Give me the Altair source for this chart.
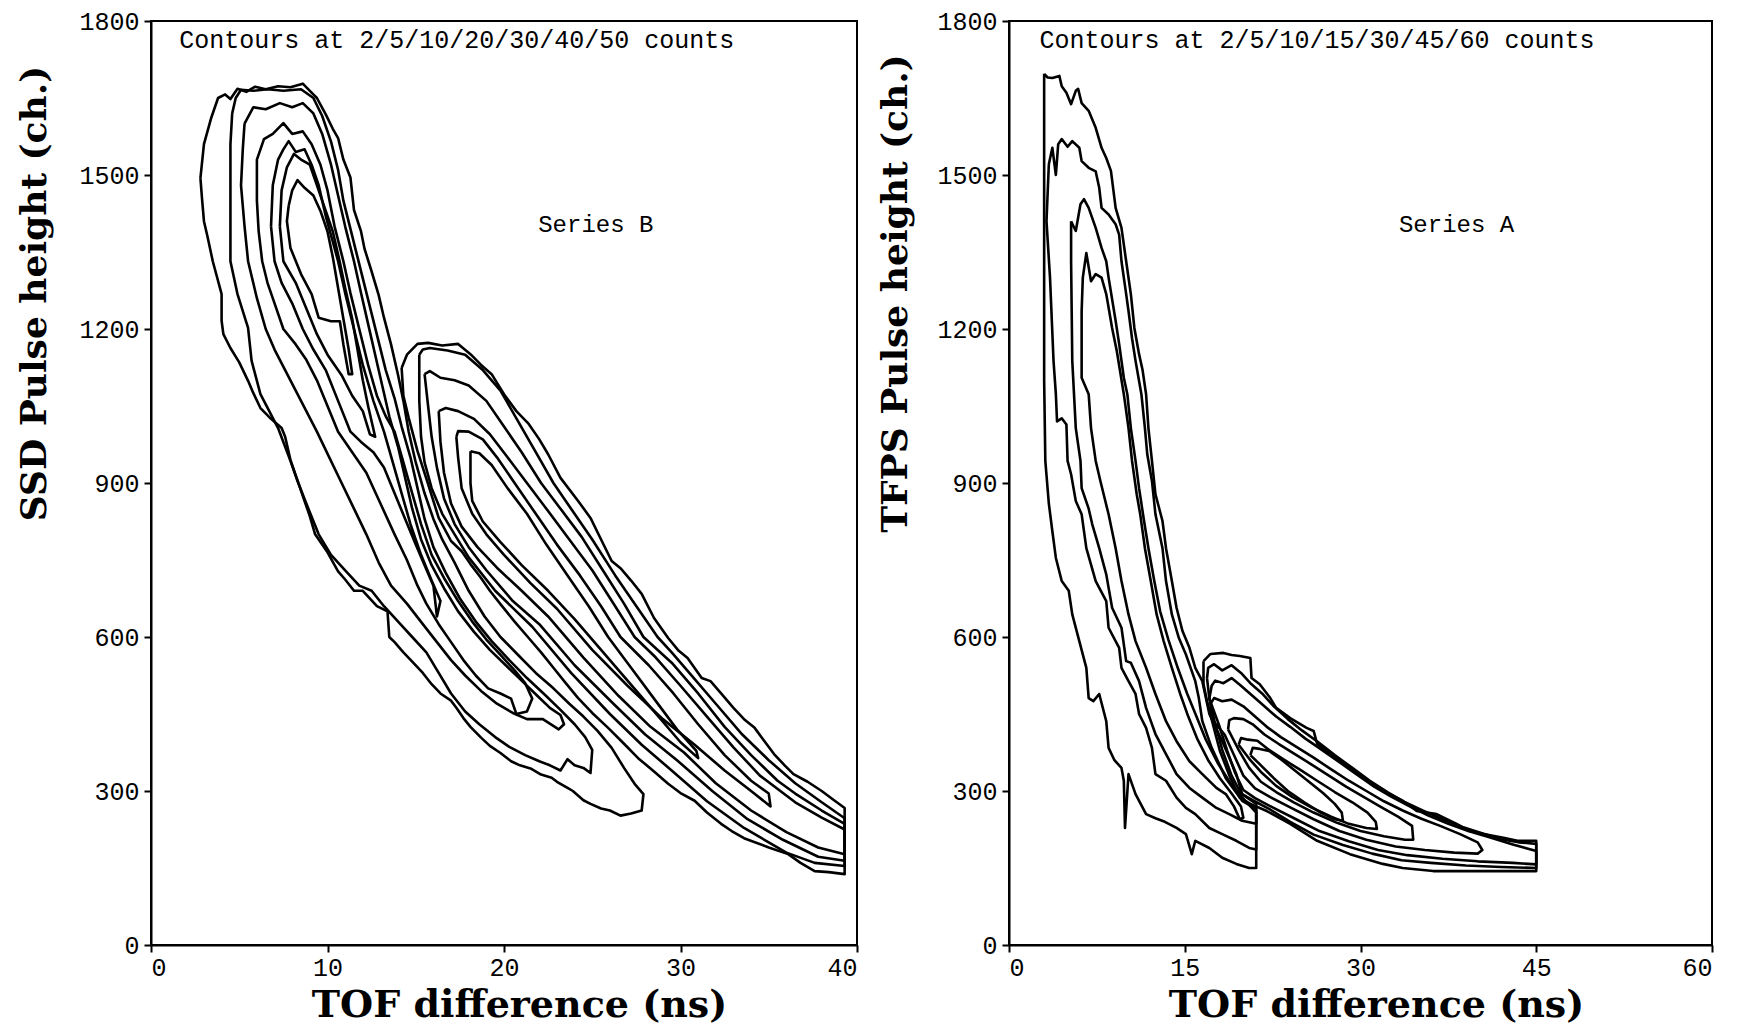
import altair as alt
import pandas as pd

# ---------------- Left panel: Series B (x = TOF difference ns, y = SSD pulse height ch.)
# first (upper-left) peak, outer -> inner
SB_P1_C1 = [(2.8,1494),(3.0,1560),(3.4,1610),(3.8,1650),(4.2,1657),(4.5,1648),(4.9,1668),(5.4,1662),(5.9,1672),(6.5,1667),(7.2,1673),(7.9,1671),(8.6,1678),(9.0,1664),(9.4,1650),(9.9,1618),(10.3,1590),(10.6,1572),(10.9,1530),(11.3,1495),(11.5,1432),(11.9,1390),(12.1,1356),(12.5,1312),(12.9,1266),(13.2,1222),(13.6,1170),(14.0,1110),(14.3,1060),(14.6,1000),(15.0,940),(15.5,880),(16.0,830),(16.5,790),(17.2,745),(18.0,690),(18.9,640),(19.8,600),(20.8,565),(21.8,530),(22.8,500),(23.7,470),(24.5,445),(25.3,417),(26.1,384),(26.8,345),(27.4,314),(27.9,294),(27.8,262),(27.2,256),(26.6,252),(26.0,262),(25.5,266),(24.9,275),(24.5,282),(23.9,300),(23.6,306),(23.0,318),(22.7,326),(22.1,332),(21.5,344),(20.9,350),(20.4,358),(19.8,374),(19.2,388),(18.7,404),(18.1,425),(17.7,442),(17.3,462),(17.0,476),(16.4,490),(15.9,508),(15.4,530),(14.8,552),(14.3,570),(13.8,590),(13.5,600),(13.4,650),(12.8,660),(12.0,690),(11.5,690),(11.0,712),(10.6,728),(10.0,765),(9.3,800),(9.0,835),(8.7,865),(8.3,905),(7.9,945),(7.6,990),(7.4,1007),(6.8,1025),(6.2,1046),(5.8,1075),(5.5,1099),(5.0,1135),(4.5,1163),(4.1,1190),(4.0,1216),(4.0,1268),(3.5,1332),(3.2,1380),(3.0,1410),(2.9,1450)]
SB_P1_C2 = [(4.6,1620),(4.8,1650),(5.1,1666),(5.8,1664),(6.6,1667),(7.5,1664),(8.5,1667),(9.2,1650),(9.7,1615),(10.2,1565),(10.6,1510),(10.9,1450),(11.3,1395),(11.7,1340),(12.1,1285),(12.5,1230),(12.9,1175),(13.3,1120),(13.8,1065),(14.2,1010),(14.7,950),(15.1,890),(15.5,830),(16.0,775),(16.7,725),(17.5,675),(18.4,630),(19.3,592),(20.3,555),(21.3,520),(22.3,488),(23.2,458),(24.0,430),(24.6,405),(25.0,380),(24.9,335),(24.5,345),(24.0,350),(23.6,362),(23.2,340),(22.6,350),(22.0,358),(21.2,370),(20.3,386),(19.5,405),(18.6,430),(17.8,455),(17.0,490),(16.3,530),(15.6,570),(14.8,600),(14.0,630),(13.2,660),(12.5,690),(11.8,700),(11.0,730),(10.2,760),(9.5,800),(8.8,860),(8.3,904),(7.9,943),(7.2,1007),(6.2,1073),(5.7,1138),(5.5,1202),(4.9,1268),(4.5,1332),(4.5,1420),(4.5,1500),(4.5,1560)]
SB_P1_C3 = [(5.3,1600),(5.8,1632),(6.5,1628),(7.3,1640),(8.0,1632),(8.6,1640),(9.2,1620),(9.7,1580),(10.2,1520),(10.6,1460),(11.0,1400),(11.5,1332),(11.9,1270),(12.3,1210),(12.7,1150),(13.1,1090),(13.5,1030),(14.0,970),(14.4,910),(14.8,850),(15.3,790),(15.9,740),(16.6,695),(17.4,650),(18.3,610),(19.2,575),(20.1,545),(21.0,515),(21.9,485),(22.6,462),(23.2,448),(23.4,430),(23.1,420),(22.2,440),(21.3,440),(20.5,452),(19.6,470),(18.7,495),(17.8,525),(17.0,555),(16.2,590),(15.4,625),(14.5,665),(13.6,700),(12.9,745),(12.2,800),(11.5,850),(10.8,900),(10.1,950),(9.4,1000),(8.5,1060),(7.6,1120),(7.0,1160),(6.5,1200),(6.0,1260),(5.5,1332),(5.3,1400),(5.1,1480),(5.2,1550)]
SB_P1_C4 = [(6.0,1450),(6.0,1530),(6.4,1570),(6.9,1580),(7.5,1601),(8.0,1580),(8.6,1585),(9.1,1560),(9.6,1520),(10.0,1470),(10.4,1400),(10.9,1332),(11.3,1270),(11.8,1200),(12.3,1130),(12.8,1070),(13.3,1030),(13.8,1000),(14.3,940),(14.8,880),(15.3,820),(15.9,760),(16.6,715),(17.4,670),(18.2,630),(19.0,595),(19.8,565),(20.6,535),(21.2,510),(21.6,480),(21.3,455),(20.7,450),(20.4,480),(19.8,490),(19.1,500),(18.4,525),(17.7,555),(17.0,590),(16.3,625),(15.6,665),(15.1,700),(14.5,750),(13.8,800),(13.0,860),(12.2,920),(11.4,960),(10.6,1000),(10.0,1050),(9.4,1100),(8.8,1140),(8.2,1170),(7.5,1200),(7.0,1250),(6.6,1290),(6.3,1332),(6.1,1390)]
SB_P1_C5 = [(6.8,1400),(6.9,1480),(7.2,1530),(7.5,1550),(7.8,1566),(8.2,1545),(8.7,1550),(9.1,1520),(9.5,1480),(9.9,1420),(10.3,1370),(10.6,1332),(11.0,1270),(11.5,1200),(12.0,1130),(12.6,1060),(13.2,1000),(13.7,940),(14.2,880),(14.7,820),(15.3,760),(15.9,710),(16.4,670),(16.2,640),(16.0,700),(15.5,740),(15.0,780),(14.4,830),(13.8,880),(13.2,930),(12.6,960),(11.9,980),(11.3,1000),(10.6,1060),(9.9,1120),(9.2,1160),(8.6,1200),(8.0,1250),(7.4,1290),(7.0,1332)]
SB_P1_C6 = [(7.3,1400),(7.4,1470),(7.7,1515),(8.1,1541),(8.5,1530),(9.0,1520),(9.5,1470),(9.9,1430),(10.3,1390),(10.7,1330),(11.0,1280),(11.4,1220),(11.7,1160),(12.0,1100),(12.3,1050),(12.7,990),(12.4,995),(12.0,1040),(11.4,1070),(10.8,1110),(10.0,1150),(9.4,1190),(8.8,1240),(8.2,1290),(7.5,1332)]
SB_P1_C7 = [(7.8,1440),(8.0,1470),(8.3,1490),(8.7,1475),(9.2,1460),(9.6,1430),(10.0,1390),(10.3,1340),(10.6,1280),(10.9,1220),(11.2,1160),(11.4,1112),(11.2,1112),(10.9,1170),(10.7,1215),(10.2,1215),(9.5,1222),(9.1,1268),(8.5,1307),(7.9,1358),(7.7,1410)]
# second (right) peak, outer -> inner
SB_P2_C1 = [(14.2,1124),(14.5,1150),(15.1,1171),(15.7,1173),(16.5,1168),(17.4,1171),(18.1,1151),(18.7,1130),(19.3,1112),(20.0,1073),(20.7,1040),(21.4,1015),(22.0,985),(22.5,956),(23.2,910),(24.2,865),(24.9,832),(25.5,790),(26.1,748),(26.6,734),(27.2,710),(27.8,684),(28.5,637),(29.3,598),(29.9,573),(30.4,559),(31.2,520),(31.7,514),(32.3,490),(33.0,462),(33.6,440),(34.2,423),(34.8,395),(35.3,372),(35.9,350),(36.4,333),(37.2,318),(38.0,300),(38.7,282),(39.3,267),(39.3,138),(38.4,142),(37.6,144),(36.8,160),(36.1,177),(35.0,190),(33.6,208),(32.9,222),(32.3,236),(31.5,258),(30.8,281),(30.0,296),(29.3,314),(28.5,338),(27.6,364),(26.8,392),(25.9,423),(25.0,452),(24.2,481),(23.5,510),(22.8,540),(22.1,570),(21.4,598),(20.6,630),(19.8,664),(19.2,690),(18.7,715),(18.1,742),(17.6,767),(17.0,787),(16.3,832),(15.7,898),(15.1,962),(14.6,1027),(14.3,1070)]
SB_P2_C2 = [(15.2,1150),(15.4,1160),(15.8,1163),(16.8,1158),(17.8,1150),(18.8,1120),(19.8,1080),(20.8,1020),(21.8,960),(22.8,900),(23.8,850),(25.0,790),(26.3,720),(27.5,660),(28.7,600),(29.5,570),(30.5,530),(32.0,470),(33.5,410),(35.0,360),(36.5,315),(38.0,278),(39.3,247),(39.3,154),(37.6,160),(36.0,180),(33.6,228),(31.5,280),(29.5,340),(27.8,390),(26.0,450),(23.8,530),(21.6,620),(19.5,690),(18.0,755),(17.2,800),(16.5,840),(15.9,890),(15.5,940),(15.3,990),(15.2,1060)]
SB_P2_C3 = [(15.5,1112),(15.8,1118),(16.4,1105),(17.2,1100),(18.0,1090),(19.0,1060),(20.0,1010),(21.0,960),(22.1,900),(23.2,850),(24.4,795),(25.6,730),(26.8,665),(27.9,600),(29.5,550),(31.0,490),(32.5,425),(34.0,370),(35.5,320),(36.5,295),(38.0,262),(39.3,236),(39.3,164),(37.8,172),(35.8,205),(33.8,245),(31.8,300),(29.8,360),(28.0,410),(26.2,470),(24.0,545),(22.0,625),(20.5,670),(19.0,730),(18.0,775),(17.2,820),(16.6,870),(16.2,930),(15.9,990),(15.7,1050)]
SB_P2_C4 = [(16.3,1040),(16.7,1046),(17.4,1040),(18.3,1025),(19.2,995),(20.2,950),(21.3,900),(22.4,850),(23.7,790),(25.0,730),(26.3,660),(27.4,600),(28.6,560),(30.0,505),(31.5,445),(33.0,385),(34.5,330),(36.5,278),(38.0,248),(39.3,225),(39.3,177),(37.8,190),(36.0,220),(34.0,262),(32.0,315),(30.2,375),(28.3,425),(26.5,485),(24.5,560),(22.5,640),(21.0,690),(19.6,735),(18.5,775),(17.6,815),(17.0,860),(16.6,920),(16.4,980)]
SB_P2_C5 = [(17.3,990),(17.4,1001),(18.0,1000),(18.8,985),(19.6,950),(20.6,900),(21.8,840),(23.0,780),(24.3,720),(25.5,660),(26.6,600),(28.2,545),(29.6,490),(31.0,430),(32.5,370),(34.0,320),(35.0,295),(35.1,270),(34.0,300),(32.5,340),(30.8,390),(29.0,440),(27.0,505),(25.0,575),(23.0,655),(21.5,705),(20.0,760),(19.0,800),(18.2,840),(17.6,890),(17.4,950)]
SB_P2_C6 = [(18.1,962),(18.6,958),(19.3,935),(20.2,890),(21.3,840),(22.4,780),(23.6,720),(24.8,660),(25.9,600),(27.2,540),(28.5,480),(29.8,420),(30.9,378),(31.0,364),(30.0,395),(28.5,455),(27.0,515),(25.5,575),(24.0,635),(22.5,690),(21.0,740),(19.8,785),(18.8,825),(18.2,865),(18.1,900)]

# ---------------- Right panel: Series A (x = TOF difference ns, y = TFPS pulse height ch.)
SA_P1_C1 = [(3.0,1697),(3.3,1690),(3.7,1689),(4.3,1693),(4.5,1673),(4.9,1660),(5.3,1638),(5.7,1664),(5.9,1668),(6.2,1640),(6.8,1625),(7.4,1592),(7.9,1553),(8.3,1533),(8.7,1508),(9.1,1436),(9.6,1397),(10.0,1332),(10.4,1268),(10.7,1202),(11.1,1151),(11.4,1120),(11.7,1073),(11.9,1007),(12.2,943),(12.5,878),(13.1,826),(13.4,773),(13.9,709),(14.3,657),(14.8,612),(15.4,579),(15.9,540),(16.5,514),(17.1,450),(18.2,397),(19.4,333),(19.9,294),(21.1,275),(21.1,150),(20.5,150),(19.4,158),(18.2,170),(17.1,189),(15.9,203),(15.6,177),(15.1,216),(14.3,228),(13.3,240),(12.5,247),(11.7,255),(10.8,294),(10.2,333),(9.9,228),(9.8,320),(9.6,345),(9.0,360),(8.5,384),(8.3,436),(7.7,489),(7.2,475),(6.8,481),(6.6,540),(6.0,592),(5.4,644),(5.1,690),(4.5,709),(4.0,754),(3.7,806),(3.4,860),(3.1,943),(3.0,1100),(3.0,1300),(3.0,1500)]
SA_P1_C2 = [(3.4,1521),(3.7,1553),(4.0,1500),(4.2,1560),(4.5,1570),(5.0,1555),(5.4,1566),(6.0,1553),(6.2,1527),(6.8,1514),(7.4,1507),(7.7,1475),(7.9,1436),(8.5,1423),(9.1,1404),(9.4,1384),(9.6,1332),(10.0,1268),(10.2,1235),(10.5,1182),(10.8,1138),(11.3,1073),(11.6,1007),(11.8,956),(12.2,904),(12.5,839),(13.1,773),(13.4,709),(13.9,644),(14.5,598),(15.1,566),(15.9,514),(16.2,481),(16.5,436),(17.3,384),(18.5,325),(19.9,281),(21.1,265),(21.1,186),(20.5,189),(19.4,203),(18.2,216),(17.1,228),(15.9,255),(15.1,267),(14.3,287),(13.4,320),(12.5,333),(12.2,384),(11.7,423),(11.1,450),(10.8,489),(10.2,514),(9.6,540),(9.4,579),(8.5,618),(8.3,670),(7.4,709),(6.6,773),(6.2,839),(5.7,865),(5.4,904),(5.3,917),(5.0,943),(4.9,1014),(4.5,1026),(4.1,1020),(4.0,1073),(3.8,1138),(3.5,1300),(3.2,1410)]
SA_P1_C3 = [(5.3,1410),(5.7,1391),(6.1,1443),(6.4,1453),(6.8,1436),(7.4,1397),(7.9,1358),(8.3,1332),(8.5,1300),(9.1,1216),(9.4,1171),(9.8,1105),(10.1,1073),(10.4,1007),(10.8,943),(11.1,890),(11.5,830),(11.9,773),(12.4,709),(12.9,650),(13.6,595),(14.4,540),(15.2,490),(16.0,445),(16.8,400),(17.8,355),(18.9,315),(20.0,285),(21.1,258),(21.1,236),(19.9,242),(18.8,255),(17.7,267),(16.5,287),(15.4,306),(14.3,333),(13.4,372),(12.5,411),(11.7,462),(11.1,514),(10.4,550),(10.0,553),(9.6,618),(8.8,657),(8.3,722),(7.7,773),(7.1,820),(6.8,850),(6.2,890),(6.1,943),(5.7,1007),(5.4,1138),(5.3,1332)]
SA_P1_C4 = [(6.2,1235),(6.3,1300),(6.6,1348),(7.0,1293),(7.4,1307),(7.9,1300),(8.3,1268),(8.8,1202),(9.2,1157),(9.8,1073),(10.2,1007),(10.5,943),(10.9,878),(11.2,839),(11.6,773),(12.1,709),(12.6,644),(13.2,592),(13.9,540),(14.6,490),(15.3,445),(16.1,400),(17.0,360),(18.0,325),(19.0,295),(19.8,270),(20.0,248),(19.7,245),(19.2,270),(18.5,294),(17.7,306),(16.5,333),(15.4,358),(14.3,397),(13.4,436),(12.5,489),(11.7,540),(10.8,592),(10.2,644),(9.6,709),(9.1,773),(8.5,839),(7.8,904),(7.4,943),(7.0,1007),(6.8,1073),(6.2,1105)]
SA_P2_C1 = [(16.6,553),(17.2,567),(18.3,569),(19.0,565),(19.7,563),(20.6,559),(20.7,520),(21.4,508),(22.3,481),(22.8,462),(24.0,442),(25.4,423),(26.0,417),(26.3,392),(27.4,372),(29.1,345),(30.6,319),(31.9,300),(33.6,281),(34.8,261),(36.5,255),(38.2,236),(39.3,222),(40.5,216),(42.2,209),(43.4,203),(45.0,203),(45.0,144),(40.5,144),(36.2,144),(33.6,150),(31.9,158),(29.1,177),(26.3,203),(24.0,236),(22.0,261),(20.6,275),(19.7,287),(18.9,325),(18.0,378),(17.4,430),(16.9,475),(16.6,508)]
SA_P2_C2 = [(16.9,520),(17.0,540),(17.5,547),(18.2,535),(19.0,545),(19.8,530),(20.6,510),(21.6,490),(22.6,465),(23.8,440),(25.0,418),(26.4,395),(27.8,370),(29.3,345),(30.8,320),(32.3,298),(33.8,278),(35.3,262),(37.0,245),(38.7,230),(40.3,218),(42.0,206),(43.5,200),(45.0,197),(45.0,150),(42.0,152),(39.0,155),(36.0,160),(33.5,165),(31.0,178),(28.5,195),(26.0,215),(24.0,240),(22.2,265),(20.8,282),(19.8,295),(19.0,330),(18.2,380),(17.6,430),(17.1,480)]
SA_P2_C3 = [(17.1,480),(17.3,505),(17.6,515),(18.3,510),(19.0,520),(19.8,505),(20.8,485),(21.8,465),(22.8,445),(24.0,425),(25.3,402),(26.7,380),(28.2,356),(29.7,332),(31.2,308),(32.7,288),(34.2,270),(35.8,252),(37.5,236),(39.2,222),(41.0,210),(43.0,196),(45.0,183),(45.0,157),(43.0,160),(40.0,163),(37.0,168),(34.0,175),(31.5,185),(29.0,202),(26.5,222),(24.5,245),(22.5,268),(21.0,286),(20.0,302),(19.3,335),(18.6,380),(17.9,430)]
SA_P2_C4 = [(17.3,440),(17.2,470),(17.5,481),(18.2,475),(19.0,478),(20.0,465),(21.0,445),(22.0,425),(23.2,405),(24.6,385),(26.0,365),(27.5,342),(29.0,320),(30.5,300),(32.0,280),(33.6,262),(35.2,246),(36.8,232),(38.5,216),(40.0,200),(40.4,185),(40.0,178),(38.0,180),(35.5,185),(33.0,192),(30.5,205),(28.2,222),(26.0,245),(24.0,268),(22.3,288),(21.0,305),(20.0,330),(19.2,370),(18.4,410)]
SA_P2_C5 = [(18.7,420),(18.8,438),(19.2,442),(20.0,440),(20.8,430),(21.8,410),(23.0,392),(24.4,372),(25.8,352),(27.3,330),(28.8,308),(30.3,288),(31.8,268),(33.2,250),(34.4,232),(34.5,205),(33.8,205),(32.0,212),(30.0,222),(28.0,238),(26.0,258),(24.3,278),(22.8,298),(21.5,318),(20.5,345),(19.6,380)]
SA_P2_C6 = [(19.6,390),(19.8,403),(20.4,400),(21.2,398),(22.2,380),(23.4,362),(24.8,342),(26.3,320),(27.8,298),(29.3,278),(30.6,258),(31.3,240),(31.4,226),(30.5,228),(29.0,236),(27.5,250),(25.8,268),(24.2,288),(22.8,310),(21.6,335),(20.6,360)]
SA_P2_C7 = [(20.6,370),(20.8,384),(21.4,382),(22.2,378),(23.2,362),(24.4,340),(25.6,318),(26.8,296),(27.8,275),(28.4,258),(28.5,242),(27.8,245),(26.6,258),(25.2,278),(23.8,300),(22.6,325),(21.5,350)]

SERIES_B_LOOPS = [SB_P1_C1, SB_P1_C2, SB_P1_C3, SB_P1_C4, SB_P1_C5, SB_P1_C6, SB_P1_C7,
                  SB_P2_C1, SB_P2_C2, SB_P2_C3, SB_P2_C4, SB_P2_C5, SB_P2_C6]
SERIES_A_LOOPS = [SA_P1_C1, SA_P1_C2, SA_P1_C3, SA_P1_C4,
                  SA_P2_C1, SA_P2_C2, SA_P2_C3, SA_P2_C4, SA_P2_C5, SA_P2_C6, SA_P2_C7]

Y_TICKS = [0, 300, 600, 900, 1200, 1500, 1800]
LEFT_X_TICKS = [0, 10, 20, 30, 40]
RIGHT_X_TICKS = [0, 15, 30, 45, 60]
LEFT_NOTE = "Contours at 2/5/10/20/30/40/50 counts"
RIGHT_NOTE = "Contours at 2/5/10/15/30/45/60 counts"


def to_frame(loops):
    rows = []
    for i, pts in enumerate(loops):
        closed = list(pts) + [pts[0]]
        for k, (x, y) in enumerate(closed):
            rows.append({"loop": i, "k": k, "x": x, "y": y})
    return pd.DataFrame(rows)


def panel(loops, xmax, xticks, ytitle, width, note, note_x, series, series_x, title_x, ytitle_x):
    xs = alt.Scale(domain=[0, xmax], nice=False, zero=False)
    ys = alt.Scale(domain=[0, 1800], nice=False, zero=False)
    xaxis = alt.Axis(values=xticks, format="d", title="TOF difference (ns)", titleX=title_x, titleY=60,
                     titleAlign="center", titleBaseline="middle", titleFontSize=38, labelPadding=3,
                     labelOverlap=False, grid=False)
    yaxis = alt.Axis(values=Y_TICKS, format="d", title=ytitle, titleX=ytitle_x, titleY=272, titleAngle=270,
                     titleAlign="center", titleBaseline="middle", titleFontSize=36, labelPadding=5,
                     labelOverlap=False, grid=False)
    lines = alt.Chart(to_frame(loops)).mark_line(color="black", strokeWidth=2.6, strokeJoin="round").encode(
        x=alt.X("x:Q", scale=xs, axis=xaxis),
        y=alt.Y("y:Q", scale=ys, axis=yaxis),
        detail="loop:N",
        order="k:Q",
    )
    notes = alt.Chart(pd.DataFrame({"x": [note_x], "y": [1763], "t": [note]})).mark_text(
        align="left", baseline="middle", font="Liberation Mono", fontSize=25, color="black"
    ).encode(x=alt.X("x:Q", scale=xs), y=alt.Y("y:Q", scale=ys), text="t:N")
    label = alt.Chart(pd.DataFrame({"x": [series_x], "y": [1403], "t": [series]})).mark_text(
        align="center", baseline="middle", font="Liberation Mono", fontSize=24, color="black"
    ).encode(x=alt.X("x:Q", scale=xs), y=alt.Y("y:Q", scale=ys), text="t:N")
    return alt.layer(lines, notes, label).properties(width=width, height=924)


left = panel(SERIES_B_LOOPS, 40, LEFT_X_TICKS, "SSD Pulse height (ch.)", 706,
             LEFT_NOTE, 1.6, "Series B", 25.2, 368, -117)
right = panel(SERIES_A_LOOPS, 60, RIGHT_X_TICKS, "TFPS Pulse height (ch.)", 703,
              RIGHT_NOTE, 2.6, "Series A", 38.2, 367, -114)

chart = alt.hconcat(left, right, spacing=16).properties(
    padding={"left": 6, "top": 0, "right": 5, "bottom": 0}
).configure_view(stroke="black", strokeWidth=2).configure_axis(
    domainColor="black", domainWidth=2, tickColor="black", tickWidth=2, tickSize=7,
    labelFont="Liberation Mono", labelFontSize=25, labelColor="black",
    titleFont="DejaVu Serif", titleFontWeight="bold", titleColor="black",
)

chart.save("out.html", embed_options={"renderer": "svg", "actions": False})
